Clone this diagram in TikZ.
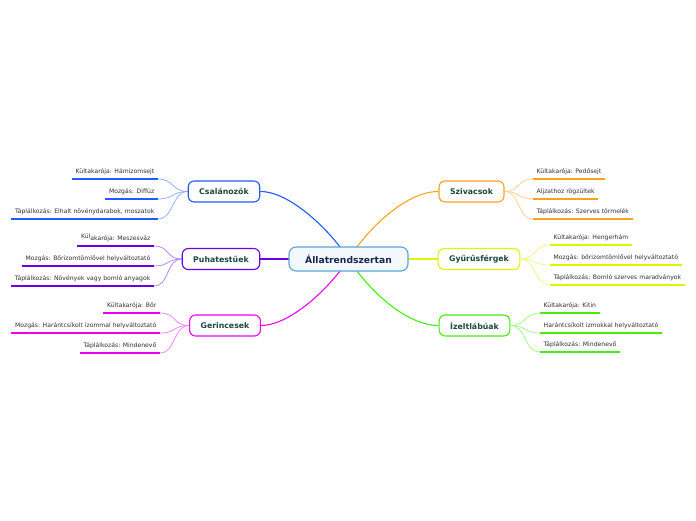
\documentclass[tikz,border=0pt]{standalone}
\usepackage{fontspec}
\setmainfont{DejaVu Sans}
\usetikzlibrary{backgrounds}
\definecolor{cblue}{HTML}{1F5BFF}
\definecolor{cpurple}{HTML}{6A00E6}
\definecolor{cmag}{HTML}{EE00EE}
\definecolor{corange}{HTML}{FFA11F}
\definecolor{cyellow}{HTML}{DDF500}
\definecolor{cgreen}{HTML}{44EE11}
\definecolor{cctr}{HTML}{5AA2DA}
\definecolor{ctrfill}{HTML}{F3F8FC}
\definecolor{ntext}{HTML}{1B4A3C}
\definecolor{ctext}{HTML}{1A2550}
\definecolor{ltext}{HTML}{303030}
\tikzset{
 topic/.style={draw=#1, line width=1.1pt, rounded corners=6pt, fill=white, minimum height=21pt, inner xsep=11pt, font=\fontsize{7.8}{9}\selectfont\bfseries, text=ntext},
 central/.style={draw=cctr, line width=1.1pt, rounded corners=7pt, fill=ctrfill, minimum height=24pt, minimum width=119pt, font=\fontsize{9.2}{11}\selectfont\bfseries, text=ctext},
 leafbase/.style={inner xsep=3.5pt, inner ysep=4pt, text height=4.5pt, text depth=1.5pt, font=\fontsize{6.1}{7}\selectfont, text=ltext},
 leafL/.style={leafbase, anchor=south east},
 leafR/.style={leafbase, anchor=south west},
 uline/.style={draw=#1, line width=1.6pt},
 mainc/.style={draw=#1, line width=1.1pt},
 leafc/.style={draw=#1!50, line width=0.75pt},
}
\begin{document}
\begin{tikzpicture}[x=1pt,y=-1pt]
\useasboundingbox (0,0) rectangle (696,520);
% central and topic nodes
\node[central] (ctr) at (348.5,259) {Állatrendszertan};
\node[topic=cblue] (csal) at (224,191.5) {Csalánozók};
\node[topic=cpurple] (puha) at (221,259) {Puhatestűek};
\node[topic=cmag] (ger) at (225,325.5) {Gerincesek};
\node[topic=corange] (sziv) at (471.5,191.5) {Szivacsok};
\node[topic=cyellow] (gyu) at (479,259) {Gyűrűsférgek};
\node[topic=cgreen] (izel) at (474.5,325.5) {Ízeltlábúak};
% leaves left
\node[leafL] (c1) at (158,179) {Kültakarója: Hámizomsejt};
\node[leafL] (c2) at (158,199) {Mozgás: Diffúz};
\node[leafL] (c3) at (158,219) {Táplálkozás: Elhalt növénydarabok, moszatok};
\node[leafL] (p1) at (154,246) {\raisebox{1.6pt}{Kül}akarója: Meszesváz};
\node[leafL] (p2) at (154,266) {Mozgás: Bőrizomtömlővel helyváltoztató};
\node[leafL] (p3) at (154,286) {Táplálkozás: Növények vagy bomló anyagok};
\node[leafL] (g1) at (160,313) {Kültakarója: Bőr};
\node[leafL] (g2) at (160,333) {Mozgás: Harántcsíkolt izommal helyváltoztató};
\node[leafL] (g3) at (160,353) {Táplálkozás: Mindenevő};
% leaves right
\node[leafR] (s1) at (533,179) {Kültakarója: Pedősejt};
\node[leafR] (s2) at (533,199) {Aljzathoz rögzültek};
\node[leafR] (s3) at (533,219) {Táplálkozás: Szerves törmelék};
\node[leafR] (y1) at (550,245) {Kültakarója: Hengerhám};
\node[leafR] (y2) at (550,265) {Mozgás: bőrizomtömlővel helyváltoztató};
\node[leafR] (y3) at (550,285) {Táplálkozás: Bomló szerves maradványok};
\node[leafR] (i1) at (540,313) {Kültakarója: Kitin};
\node[leafR] (i2) at (540,333) {Harántcsíkolt izmokkal helyváltoztató};
\node[leafR] (i3) at (540,352) {Táplálkozás: Mindenevő};
% underlines
\foreach \n in {c1,c2,c3}{\draw[uline=cblue] (\n.south west) -- (\n.south east);}
\foreach \n in {p1,p2,p3}{\draw[uline=cpurple] (\n.south west) -- (\n.south east);}
\foreach \n in {g1,g2,g3}{\draw[uline=cmag] (\n.south west) -- (\n.south east);}
\foreach \n in {s1,s2,s3}{\draw[uline=corange] (\n.south west) -- (\n.south east);}
\foreach \n in {y1,y2,y3}{\draw[uline=cyellow] (\n.south west) -- (\n.south east);}
\foreach \n in {i1,i2,i3}{\draw[uline=cgreen] (\n.south west) -- (\n.south east);}
\begin{scope}[on background layer]
% main connectors
\draw[mainc=cblue] (ctr.center) .. controls (330,230) and (290,191.5) .. (csal.east);
\draw[mainc=cmag] (ctr.center) .. controls (330,288) and (290,325.5) .. (ger.east);
\draw[mainc=corange] (ctr.center) .. controls (367,230) and (405,191.5) .. (sziv.west);
\draw[mainc=cgreen] (ctr.center) .. controls (367,288) and (405,325.5) .. (izel.west);
\draw[mainc=cpurple] (ctr.center) -- (puha.east);
\draw[mainc=cyellow] (ctr.center) -- (gyu.west);
% leaf connectors
\foreach \n in {c1,c2,c3}{\draw[leafc=cblue] (csal.west) .. controls +(-16,0) and +(16,0) .. (\n.south east);}
\foreach \n in {p1,p2,p3}{\draw[leafc=cpurple] (puha.west) .. controls +(-16,0) and +(16,0) .. (\n.south east);}
\foreach \n in {g1,g2,g3}{\draw[leafc=cmag] (ger.west) .. controls +(-16,0) and +(16,0) .. (\n.south east);}
\foreach \n in {s1,s2,s3}{\draw[leafc=corange] (sziv.east) .. controls +(16,0) and +(-16,0) .. (\n.south west);}
\foreach \n in {y1,y2,y3}{\draw[leafc=cyellow] (gyu.east) .. controls +(16,0) and +(-16,0) .. (\n.south west);}
\foreach \n in {i1,i2,i3}{\draw[leafc=cgreen] (izel.east) .. controls +(16,0) and +(-16,0) .. (\n.south west);}
\end{scope}
\end{tikzpicture}
\end{document}
